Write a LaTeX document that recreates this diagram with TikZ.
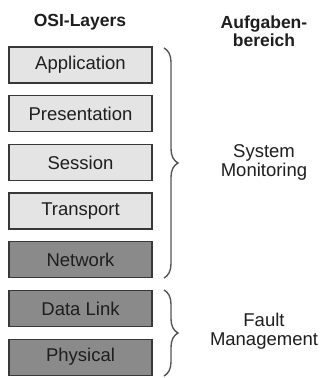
\documentclass[tikz,border=0pt]{standalone}
\usepackage{fontspec}
\setmainfont{Liberation Sans}
\usetikzlibrary{decorations.pathreplacing}
\definecolor{LGray}{HTML}{E4E4E4}
\definecolor{DGray}{HTML}{8A8A8A}
\definecolor{Frame}{HTML}{383838}
\definecolor{Ink}{HTML}{1E1E1E}
\definecolor{Brace}{HTML}{555555}

\begin{document}
\begin{tikzpicture}[x=1pt, y=-1pt,
  layer/.style={draw=Frame, fill=LGray, line width=1.3pt,
                minimum width=143pt, minimum height=36pt, inner sep=0pt,
                text=Ink, font=\fontsize{18.5}{18.5}\selectfont},
  lower/.style={layer, fill=DGray},
  head/.style={text=Ink, font=\fontsize{17.5}{18}\selectfont\bfseries, align=center},
  task/.style={text=Ink, font=\fontsize{18.5}{18.5}\selectfont, align=center},
  brc/.style={decorate, decoration={brace, amplitude=14pt}, draw=Brace, line width=1.4pt},
]
\useasboundingbox (0,0) rectangle (323,378);
\node[head] (hosi) at (80,22) {OSI-Layers};
\node[head] (htask) at (264,31) {Aufgaben-\\bereich};
\node[layer] (app) at (80.5,65) {Application};
\node[layer] (pres) at (80.5,113.7) {Presentation};
\node[layer] (sess) at (80.5,162.4) {Session};
\node[layer] (trans) at (80.5,211.1) {Transport};
\node[lower] (net) at (80.5,259.8) {Network};
\node[lower] (link) at (80.5,308.5) {Data Link};
\node[lower] (phys) at (80.5,357.2) {Physical};
\coordinate (sysA) at (164,48);
\coordinate (sysB) at (164,278);
\coordinate (fltA) at (164,290);
\coordinate (fltB) at (164,376);
\draw[brc] (sysA) -- (sysB);
\draw[brc] (fltA) -- (fltB);
\node[task] (sys) at (264,162.5) {System\\Monitoring};
\node[task] (flt) at (264,331) {Fault\\Management};
\end{tikzpicture}
\end{document}
